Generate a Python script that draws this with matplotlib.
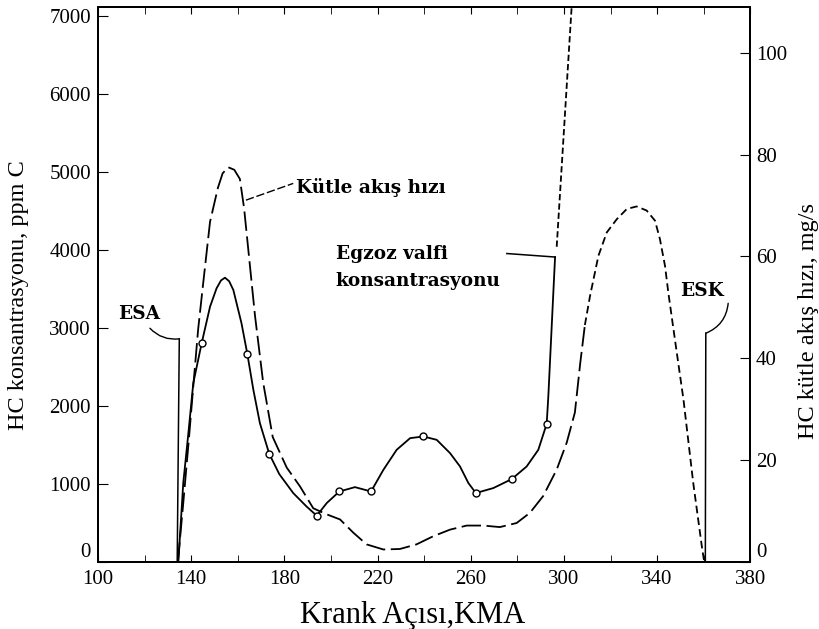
import matplotlib.pyplot as plt

plt.rcParams['font.family'] = ['Liberation Serif', 'DejaVu Serif']
plt.rcParams['lines.scale_dashes'] = False

# HC konsantrasyonu (ppm C), ölçülen noktalar
olcum_aci = [144.5, 164.1, 173.5, 193.9, 203.6, 217.2, 239.7, 262.2, 277.6, 292.6]
olcum_hc = [2804, 2667, 1385, 590, 901, 901, 1607, 881, 1060, 1769]

# konsantrasyon eğrisi (düz çizgi)
kons_aci = [134.5, 136.6, 138.8, 140.9, 144.5, 148.1, 150.9, 152.8, 154.5, 156.3,
            158.1, 161.6, 164.1, 166.7, 169.5, 173.5, 177.8, 183.8, 189.5, 193.9,
            198.2, 203.6, 210.3, 217.2, 222.5, 228.2, 234.0, 239.7, 245.4, 251.1,
            255.4, 259.0, 262.2, 269.7, 277.6, 284.0, 289.0, 292.6, 293.3, 295.3,
            296.2]
kons_hc = [0, 1009, 1650, 2291, 2804, 3273, 3509, 3610, 3645, 3600,
           3487, 3060, 2667, 2205, 1778, 1385, 1125, 881, 709, 590,
           753, 901, 957, 901, 1179, 1436, 1586, 1607, 1564, 1394,
           1222, 1009, 881, 945, 1060, 1222, 1436, 1769, 2120, 3359,
           3910]
# egzoz valfi konsantrasyonu (kesikli devam)
valf_aci = [296.9, 303.3]
valf_hc = [4042, 7115]

# HC kütle akış hızı (mg/s)
akis_aci = [134.3, 136.5, 139.0, 141.0, 143.0, 145.2, 148.1, 151.5, 153.5, 155.9,
            158.5, 160.9, 162.7, 164.5, 167.4, 170.9, 175.0, 181.0, 186.7, 192.4,
            198.2, 203.9, 209.6, 215.3, 222.5, 229.6, 236.7, 243.9, 251.1, 258.3,
            265.4, 272.5, 279.7, 285.4, 291.1, 296.9, 301.2, 304.7, 307.0, 309.0]
akis_mg = [0, 11, 24, 35, 45.7, 54.9, 66.8, 73.5, 76.3, 77.5,
           77.0, 75.2, 69.5, 61.4, 48.3, 35.2, 24.5, 18.5, 14.8, 10.5,
           9.3, 8.3, 5.7, 3.4, 2.4, 2.5, 3.4, 5.0, 6.3, 7.1,
           7.1, 6.8, 7.6, 9.6, 12.9, 18.1, 23.4, 29.3, 39.0, 46.5]
tepe_aci = [309.0, 311.2, 314.8, 318.4, 322.7, 327.0, 331.2, 335.5, 339.1, 341.2,
            343.4, 344.8, 348.0, 351.3, 355.5, 359.2, 360.2]
tepe_mg = [46.5, 52.2, 60.1, 64.7, 67.3, 69.3, 69.8, 69.0, 67.0, 63.4,
           58.1, 52.9, 42.5, 31.9, 15.5, 3.0, 0]

# egzoz valfi açılma / kapanma çizgileri
esa_aci = [134.0, 134.9]
esa_hc = [0, 2860]
esk_aci = [360.7, 360.9]
esk_hc = [0, 2932]

fig = plt.figure(figsize=(8.2, 6.29), dpi=100)
ax = fig.add_axes([0.1195, 0.107, 0.7955, 0.882])
ax2 = ax.twinx()

ax.plot(kons_aci, kons_hc, color='black', lw=1.3)
ax.plot(valf_aci, valf_hc, color='black', lw=1.3, dashes=(4.5, 2.2))
ax.plot(olcum_aci, olcum_hc, 'o', ms=5, mfc='white', mec='black', mew=1.0)

ax2.plot(akis_aci, akis_mg, color='black', lw=1.3, dashes=(14, 4))
ax2.plot(tepe_aci, tepe_mg, color='black', lw=1.3, dashes=(5.5, 3))

ax.plot(esa_aci, esa_hc, color='black', lw=1.1)
ax.plot(esk_aci, esk_hc, color='black', lw=1.1)

ax.set_xlim(100, 380)
ax.set_ylim(0, 7120)
ax2.set_ylim(0, 109)

ax.set_xticks(range(100, 381, 40))
ax.set_xticks(range(120, 381, 40), minor=True)
ax.set_yticks(range(0, 7001, 1000))
ax2.set_yticks(range(0, 101, 20))

ax.tick_params(axis='x', which='both', direction='in', top=True, length=5, labelsize=15, pad=6)
ax.tick_params(axis='y', direction='in', length=7, labelsize=15, pad=5)
ax2.tick_params(axis='y', direction='in', length=7, labelsize=15, pad=4)

# alt köşedeki "0" etiketleri biraz yukarıda
ax.yaxis.get_major_ticks()[0].label1.set_va('bottom')
ax2.yaxis.get_major_ticks()[0].label2.set_va('bottom')

for a in (ax, ax2):
    for s in a.spines.values():
        s.set_linewidth(1.4)

ax.set_xlabel('Krank Açısı,KMA', fontsize=22, labelpad=2)
ax.xaxis.set_label_coords(0.483, -0.07)
ax.set_ylabel('HC konsantrasyonu, ppm C', fontsize=17.5)
ax.yaxis.set_label_coords(-0.105, 0.481)
ax2.set_ylabel('HC kütle akış hızı, mg/s', fontsize=17.5)
ax2.yaxis.set_label_coords(1.073, 0.434)

# etiketler ve işaret çizgileri
etiket = dict(family=['DejaVu Serif'], fontsize=13.3, fontweight='bold', va='center')
ax.text(185.0, 4800, 'Kütle akış hızı', **etiket)
ax.plot([163.5, 183.8], [4640, 4855], color='black', lw=1.0, dashes=(6, 2))
ax.text(202.0, 3950, 'Egzoz valfi', **etiket)
ax.text(202.0, 3600, 'konsantrasyonu', **etiket)
ax.plot([275.5, 296.2], [3955, 3910], color='black', lw=1.1)
ax.text(108.6, 3180, 'ESA', **etiket)
ax.annotate('', xy=(esa_aci[1], esa_hc[1]), xytext=(122.3, 2996),
            arrowprops=dict(arrowstyle='-', color='black', lw=1.0,
                            connectionstyle='arc3,rad=0.25', shrinkA=0, shrinkB=0))
ax.text(349.8, 3474, 'ESK', **etiket)
ax.annotate('', xy=(esk_aci[1], esk_hc[1]), xytext=(370.5, 3316),
            arrowprops=dict(arrowstyle='-', color='black', lw=1.0,
                            connectionstyle='arc3,rad=-0.3', shrinkA=0, shrinkB=0))

fig.savefig('out.png', dpi=100)
